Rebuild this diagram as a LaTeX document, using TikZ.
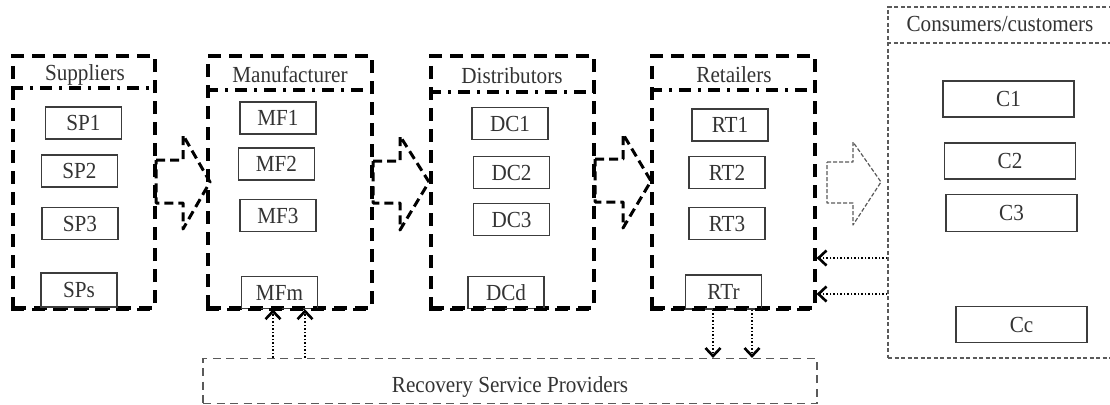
\documentclass[tikz,border=0pt]{standalone}
\usepackage{fontspec}
\setmainfont{Liberation Serif}[FakeStretch=0.92]
\usetikzlibrary{arrows.meta}

\definecolor{ink}{HTML}{333333}
\definecolor{frame}{HTML}{3C3C3C}
\definecolor{soft}{HTML}{5A5A5A}

\tikzset{
  stage/.style={draw=black, line width=3.2pt, dash pattern=on 13pt off 8pt, inner sep=0pt, minimum height=252pt},
  stagetitle/.style={anchor=base, text=ink},
  divider/.style={line width=3.2pt, dash pattern=on 12pt off 7pt on 3pt off 7pt},
  unit/.style={draw=frame, line width=1.6pt, inner sep=0pt, minimum width=76pt, minimum height=32pt, text=ink},
  cunit/.style={unit, minimum width=131pt, minimum height=36pt},
  flow/.style={line width=3pt, dash pattern=on 9pt off 5pt, line join=round},
  thinflow/.style={draw=soft, line width=1.2pt, dash pattern=on 4pt off 2pt, line join=round},
  lightbox/.style={draw=soft, line width=1.2pt, dash pattern=on 4pt off 2.5pt, inner sep=0pt, text=ink},
  returnflow/.style={line width=2pt, dash pattern=on 1.5pt off 2pt,
    -{Straight Barb[length=8pt, width=15pt, line width=2.6pt]}},
}

\begin{document}
\begin{tikzpicture}[x=1pt, y=-1pt, every node/.style={font=\fontsize{23}{26}\selectfont}]
\useasboundingbox (0,0) rectangle (1110,404);
\clip (0,0) rectangle (1110,404);

% supply-chain stages
\node[stage, minimum width=142pt] (sup) at (84,182) {};
\node[stage, minimum width=164pt] (man) at (290,182) {};
\node[stage, minimum width=163pt] (dis) at (512.5,182) {};
\node[stage, minimum width=163pt] (ret) at (733.5,182) {};

% stage headings
\node[stagetitle] (supt) at (85,80) {Suppliers};
\node[stagetitle] (mant) at (290,82) {Manufacturer};
\node[stagetitle] (dist) at (512,83) {Distributors};
\node[stagetitle] (rett) at (734,82) {Retailers};

% heading dividers
\coordinate (d1) at (0,88);
\coordinate (d2) at (0,90);
\coordinate (d3) at (0,92);
\coordinate (d4) at (0,90);
\draw[divider] (sup.west |- d1) -- (sup.east |- d1);
\draw[divider] (man.west |- d2) -- (man.east |- d2);
\draw[divider] (dis.west |- d3) -- (dis.east |- d3);
\draw[divider] (ret.west |- d4) -- (ret.east |- d4);

% suppliers
\node[unit] (sp1) at (83.5,123) {SP1};
\node[unit] (sp2) at (79.5,171) {SP2};
\node[unit] (sp3) at (80,223.5) {SP3};
\node[unit, minimum height=34pt] (sps) at (79,290) {SPs};

% manufacturers
\node[unit] (mf1) at (278,118) {MF1};
\node[unit] (mf2) at (276.5,164) {MF2};
\node[unit] (mf3) at (278,215.5) {MF3};
\node[unit] (mfm) at (279.5,292.5) {MFm};

% distribution centres
\node[unit] (dc1) at (510,123.5) {DC1};
\node[unit] (dc2) at (511.5,172.5) {DC2};
\node[unit] (dc3) at (511.5,219.5) {DC3};
\node[unit] (dcd) at (506,292.5) {DCd};

% retailers
\node[unit] (rt1) at (730,125) {RT1};
\node[unit] (rt2) at (727,172.5) {RT2};
\node[unit] (rt3) at (727,223.5) {RT3};
\node[unit, minimum height=34pt] (rtr) at (723.5,292) {RTr};

% redraw the stage frames over the bottom units
\draw[stage] (sup.south west) -- (sup.south east);
\draw[stage] (man.south west) -- (man.south east);
\draw[stage] (dis.south west) -- (dis.south east);
\draw[stage] (ret.south west) -- (ret.south east);

% forward flow arrows
\draw[flow] (156,160) -- (183,160) -- (183,135) -- (210,182) -- (183,229) -- (183,203) -- (156,203) -- cycle;
\draw[flow] (373,161) -- (400,161) -- (400,136) -- (429,182) -- (400,230) -- (400,203) -- (373,203) -- cycle;
\draw[flow] (595,159) -- (623,159) -- (623,134) -- (651,181) -- (623,228) -- (623,202) -- (595,202) -- cycle;
\draw[thinflow] (827,162) -- (853,162) -- (853,142) -- (881,182) -- (853,225) -- (853,203) -- (827,203) -- cycle;

% consumers
\node[lightbox, minimum width=226pt, minimum height=351pt] (cons) at (1001,182.5) {};
\node[stagetitle] (const) at (1000,32) {Consumers/customers};
\coordinate (d5) at (0,43);
\draw[draw=soft, line width=1.2pt, dash pattern=on 4pt off 2.5pt] (cons.west |- d5) -- (cons.east |- d5);
\node[cunit] (c1) at (1008.5,99) {C1};
\node[cunit] (c2) at (1010,161) {C2};
\node[cunit, minimum height=37pt] (c3) at (1011.5,213) {C3};
\node[cunit] (cc) at (1021.5,324.5) {Cc};

% recovery service providers
\node[lightbox, dash pattern=on 8pt off 5.5pt, minimum width=614pt, minimum height=45pt,
      text height=22.5pt, text depth=0pt] (rec) at (510,381) {Recovery Service Providers};

% return flows
\coordinate (r1) at (0,258);
\coordinate (r2) at (0,294);
\draw[returnflow] (cons.west |- r1) -- (ret.east |- r1);
\draw[returnflow] (cons.west |- r2) -- (ret.east |- r2);

\coordinate (u1) at (273,0);
\coordinate (u2) at (305,0);
\draw[returnflow] (rec.north -| u1) -- (mfm.south -| u1);
\draw[returnflow] (rec.north -| u2) -- (mfm.south -| u2);

\coordinate (v1) at (713,0);
\coordinate (v2) at (752,0);
\draw[returnflow] (rtr.south -| v1) -- (rec.north -| v1);
\draw[returnflow] (rtr.south -| v2) -- (rec.north -| v2);
\end{tikzpicture}
\end{document}
